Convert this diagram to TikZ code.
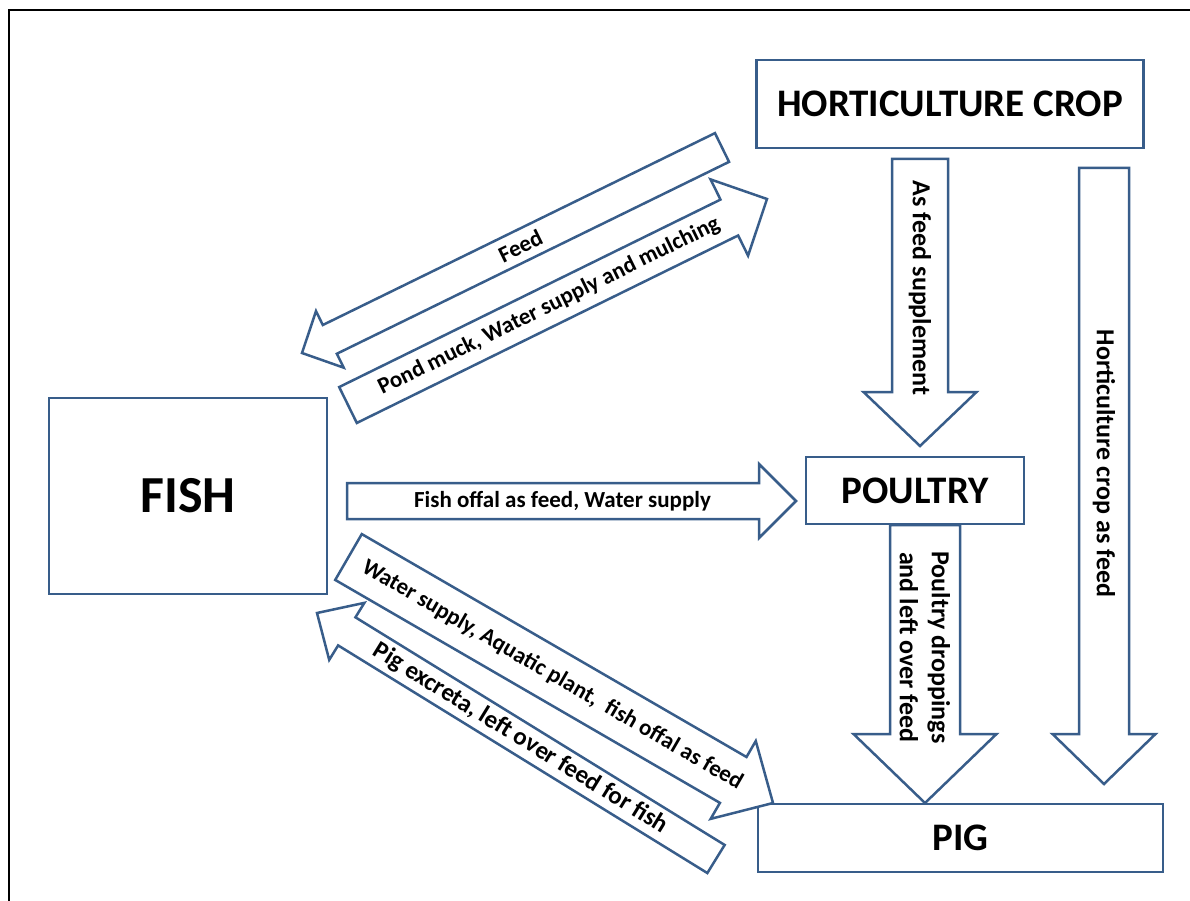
\documentclass[tikz,border=0pt]{standalone}
\usepackage{fontspec}
\setmainfont{Carlito}
\usetikzlibrary{calc}

\definecolor{edgeblue}{RGB}{56,93,138}

\begin{document}
\begin{tikzpicture}[x=1pt,y=-1pt,
    box/.style={draw=edgeblue,line width=2.5pt,fill=white,inner sep=0pt,
        font=\bfseries\fontsize{39}{44}\selectfont},
    lbl/.style={inner sep=0pt,align=center,
        font=\bfseries\fontsize{23}{28}\selectfont},
    vlbl/.style={lbl,rotate=-90,font=\bfseries\fontsize{26}{32}\selectfont},
    blk/.style={draw=edgeblue,line width=2.5pt,fill=white}]
  \useasboundingbox (0,0) rectangle (1190,901);
  \draw[line width=2pt] (9,901) -- (9,10) -- (1190,10);

  \node[box,minimum width=387pt,minimum height=88pt] (hort) at (950,104) {HORTICULTURE CROP};
  \node[box,minimum width=278pt,minimum height=196pt,
      font=\bfseries\fontsize{52}{58}\selectfont] (fish) at (188,496) {FISH};
  \node[box,minimum width=218pt,minimum height=67pt] (poultry) at (915,490.5) {POULTRY};
  \node[box,minimum width=405pt,minimum height=68pt] (pig) at (960.5,838) {PIG};

  \coordinate (feed-a) at (722,147.5);  \coordinate (feed-b) at (302,353);
  \coordinate (muck-a) at (348,405);    \coordinate (muck-b) at (767,199);
  \coordinate (offal-a) at (347,501);   \coordinate (offal-b) at (796,501);
  \coordinate (water-a) at (348.5,557); \coordinate (water-b) at (773,803);
  \coordinate (excr-a) at (716,859);    \coordinate (excr-b) at (317,613);
  \coordinate (supp-a) at (920,159);    \coordinate (supp-b) at (920,446);
  \coordinate (crop-a) at (1104,168);   \coordinate (crop-b) at (1104,784);
  \coordinate (drop-a) at (925,525);    \coordinate (drop-b) at (925,803);

  \foreach \a/\b/\w/\h/\l in {feed-a/feed-b/16/31.5/31, muck-a/muck-b/20/42.5/42,
      offal-a/offal-b/18/37/37, water-a/water-b/26.5/45/46, excr-a/excr-b/16.5/33.5/35,
      supp-a/supp-b/28/56.5/54, crop-a/crop-b/25/51.5/50, drop-a/drop-b/35/71.5/69}{
      \coordinate (hb) at ($(\b)!\l pt!(\a)$);
      \draw[blk] ($(\a)!\w pt!90:(\b)$) -- ($(hb)!\w pt!-90:(\a)$)
        -- ($(hb)!\h pt!-90:(\a)$) -- (\b) -- ($(hb)!\h pt!90:(\a)$)
        -- ($(hb)!\w pt!90:(\a)$) -- ($(\a)!\w pt!-90:(\b)$) -- cycle;
    }

  \path (feed-a) -- (feed-b) node[lbl,sloped,pos=.48] (feedlbl) {Feed};
  \path (muck-a) -- (muck-b) node[lbl,sloped,pos=.48] (mucklbl) {Pond muck, Water supply and mulching};
  \path (offal-a) -- (offal-b) node[lbl,sloped,pos=.48] (offallbl) {Fish offal as feed, Water supply};
  \path (water-a) -- (water-b) node[lbl,sloped,pos=.48] (waterlbl) {Water supply, Aquatic plant,~ fish offal as feed};
  \path (excr-a) -- (excr-b) node[lbl,sloped,pos=.49,
      font=\bfseries\fontsize{25}{30}\selectfont] (excrlbl) {Pig excreta, left over feed for fish};
  \path (supp-a) -- (supp-b) node[vlbl,pos=.45] (supplbl) {As feed supplement};
  \path (crop-a) -- (crop-b) node[vlbl,pos=.48] (croplbl) {Horticulture crop as feed};
  \path (drop-a) -- (drop-b) node[vlbl,pos=.44] (droplbl) {Poultry droppings\\and left over feed};
\end{tikzpicture}
\end{document}
